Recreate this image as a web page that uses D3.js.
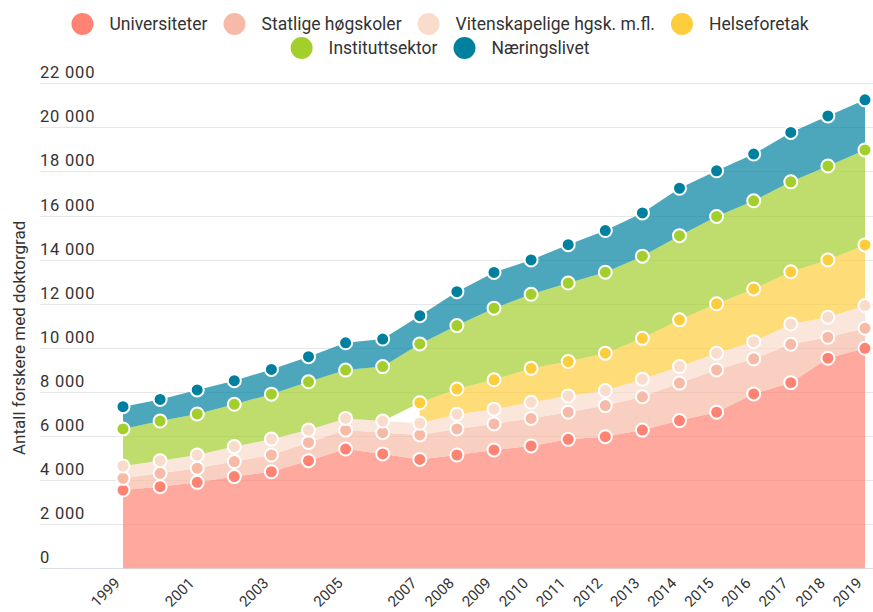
<!DOCTYPE html>
<html>
<head>
<meta charset="utf-8">
<script src="https://cdn.jsdelivr.net/npm/d3@7"></script>
<style>
  html, body { margin: 0; padding: 0; background: #fff; }
  svg { display: block; font-family: Roboto, "Noto Sans", sans-serif; }
</style>
</head>
<body>
<svg id="chart" width="873" height="612"></svg>
<script>
// Researchers with a doctorate, by sector, 1999–2019
const years = [1999, 2000, 2001, 2002, 2003, 2004, 2005, 2006, 2007, 2008, 2009,
               2010, 2011, 2012, 2013, 2014, 2015, 2016, 2017, 2018, 2019];

const universiteter = [3550, 3700, 3900, 4160, 4380, 4880, 5410, 5190, 4940, 5140, 5370,
                       5550, 5850, 5970, 6270, 6700, 7080, 7910, 8420, 9530, 9980];
const statligeHogskoler = [530, 610, 640, 680, 760, 830, 860, 960, 1110, 1180, 1180,
                           1250, 1230, 1410, 1510, 1700, 1920, 1590, 1740, 950, 910];
const vitenskapelige = [560, 570, 600, 680, 720, 560, 530, 530, 530, 670, 670,
                        730, 740, 680, 800, 750, 760, 780, 920, 910, 1030];
const helseforetak = [null, null, null, null, null, null, null, null, 930, 1140, 1330,
                      1540, 1560, 1700, 1850, 2120, 2240, 2390, 2370, 2600, 2750];
const instituttsektor = [1680, 1800, 1860, 1920, 2040, 2190, 2190, 2470, 2670, 2880, 3250,
                         3360, 3560, 3670, 3730, 3820, 3960, 4000, 4080, 4260, 4310];
const naeringslivet = [1010, 980, 1090, 1070, 1120, 1140, 1240, 1250, 1280, 1540, 1620,
                       1560, 1740, 1890, 1960, 2150, 2070, 2120, 2240, 2270, 2270];

const seriesNames = ["Universiteter", "Statlige høgskoler", "Vitenskapelige hgsk. m.fl.",
                     "Helseforetak", "Instituttsektor", "Næringslivet"];
const seriesColors = ["#ff8373", "#f7baa6", "#fadccd", "#fecd3d", "#a3cf2d", "#00809f"];
const seriesValues = [universiteter, statligeHogskoler, vitenskapelige,
                      helseforetak, instituttsektor, naeringslivet];

const yTicks = [0, 2000, 4000, 6000, 8000, 10000, 12000, 14000, 16000, 18000, 20000, 22000];
const xTickYears = [1999, 2001, 2003, 2005, 2007, 2008, 2009, 2010, 2011, 2012, 2013,
                    2014, 2015, 2016, 2017, 2018, 2019];
const yTitle = "Antall forskere med doktorgrad";

const svg = d3.select("#chart");
const W = 873;

const x = d3.scaleLinear().domain([1999, 2019]).range([123, 865]);
const y = d3.scaleLinear().domain([0, 22000]).range([568.3, 83.3]);

// Table for the stack; missing values count as zero in the cumulative sum
const table = years.map((yr, i) => {
  const row = { year: yr };
  seriesNames.forEach((n, s) => { row[n] = seriesValues[s][i]; });
  return row;
});
const stack = d3.stack()
  .keys(seriesNames)
  .value((d, k) => d[k] == null ? 0 : d[k]);
const layers = stack(table);

// Grid lines and tick labels
const grid = svg.append("g");
yTicks.forEach(t => {
  grid.append("line")
    .attr("x1", 40).attr("x2", W)
    .attr("y1", Math.round(y(t)) + 0.5).attr("y2", Math.round(y(t)) + 0.5)
    .attr("stroke", t === 0 ? "#d8dde6" : "#e6e6e6")
    .attr("stroke-width", 1);
  grid.append("text")
    .attr("x", 40).attr("y", y(t) - 5)
    .attr("font-size", 16.5)
    .attr("letter-spacing", 0.8)
    .attr("fill", "#333")
    .text(d3.format(",")(t).replace(/,/g, "\u00a0"));
});

// Y title
svg.append("text")
  .attr("transform", `translate(25,${y(11000) + 12}) rotate(-90)`)
  .attr("text-anchor", "middle")
  .attr("font-size", 17)
  .attr("fill", "#333")
  .text(yTitle);

// Stacked areas
const area = d3.area()
  .defined(d => d.data[d.key] != null)
  .x(d => x(d.data.year))
  .y0(d => y(d[0]))
  .y1(d => y(d[1]));

layers.forEach((layer, s) => {
  layer.forEach(p => { p.key = layer.key; });
  svg.append("path")
    .datum(layer)
    .attr("d", area)
    .attr("fill", seriesColors[s])
    .attr("fill-opacity", 0.7);
});

// Markers on top of each layer
layers.forEach((layer, s) => {
  svg.append("g").selectAll("circle")
    .data(layer.filter(p => p.data[layer.key] != null))
    .join("circle")
    .attr("cx", d => x(d.data.year))
    .attr("cy", d => y(d[1]))
    .attr("r", 6.5)
    .attr("fill", seriesColors[s])
    .attr("stroke", "#fff")
    .attr("stroke-width", 2);
});

// X axis labels, rotated
const xl = svg.append("g");
xTickYears.forEach(yr => {
  xl.append("text")
    .attr("transform", `translate(${x(yr) - 2},${584}) rotate(-45)`)
    .attr("text-anchor", "end")
    .attr("font-size", 15)
    .attr("fill", "#333")
    .text(yr);
});

// Legend: two centred rows
const legendRows = [[0, 1, 2, 3], [4, 5]];
const rowY = [24, 48];
const legendCenter = 440;
legendRows.forEach((row, r) => {
  const g = svg.append("g");
  let cx = 0;
  row.forEach(s => {
    const item = g.append("g").attr("transform", `translate(${cx},0)`);
    item.append("ellipse")
      .attr("cx", 0).attr("cy", 0).attr("rx", 11).attr("ry", 11)
      .attr("fill", seriesColors[s]);
    const t = item.append("text")
      .attr("x", 27).attr("y", 6)
      .attr("font-size", 17.5)
      .attr("fill", "#333")
      .text(seriesNames[s]);
    const w = t.node().getComputedTextLength();
    cx += 27 + w + 27;
  });
  const total = cx - 27 + 11; // from circle's left edge to last text end
  g.attr("transform", `translate(${legendCenter - total / 2 + 11},${rowY[r]})`);
});
</script>
</body>
</html>
